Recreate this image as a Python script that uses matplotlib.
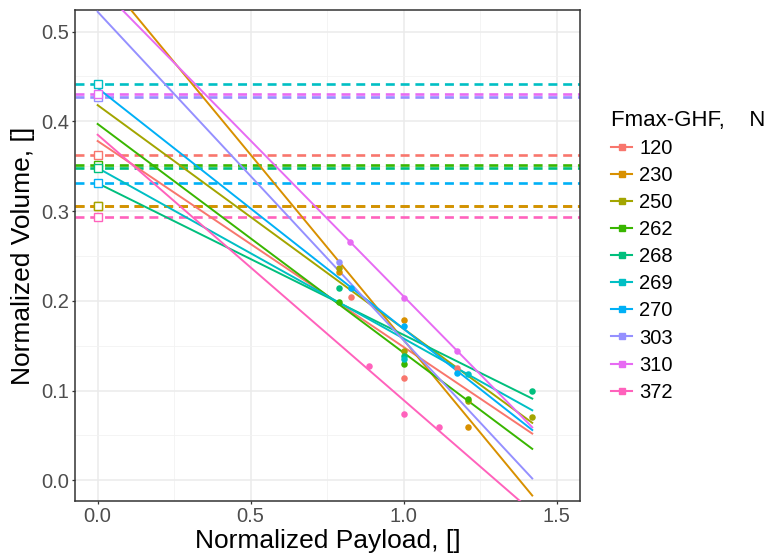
import numpy as np
import matplotlib.pyplot as plt
from matplotlib.lines import Line2D

plt.rcParams['font.family'] = ['Liberation Sans', 'DejaVu Sans']

groups = ['120', '230', '250', '262', '268', '269', '270', '303', '310', '372']
colors = ['#F8766D', '#D89000', '#A3A500', '#39B600', '#00BF7D',
          '#00BFC4', '#00B0F6', '#9590FF', '#E76BF3', '#FF62BC']

# volume at zero payload (dashed reference lines + open squares)
ref_volume = [0.362, 0.306, 0.306, 0.351, 0.348, 0.442, 0.331, 0.427, 0.430, 0.293]

# linear fits, value at payload 0 and at payload 1.42
fit_x = [0.0, 1.42]
fit_start = [0.378, 0.569, 0.418, 0.397, 0.331, 0.348, 0.437, 0.522, 0.552, 0.385]
fit_end = [0.052, -0.017, 0.064, 0.035, 0.091, 0.078, 0.056, 0.002, 0.059, -0.035]

# measured points
point_x = [[0.827, 1.0, 1.173],
           [0.79, 1.0, 1.211],
           [0.79, 1.0, 1.211, 1.42],
           [0.79, 1.0, 1.211],
           [0.79, 1.0, 1.42],
           [1.0, 1.211],
           [0.827, 1.0, 1.173],
           [0.79],
           [0.825, 1.0, 1.174],
           [0.886, 1.0, 1.114]]
point_y = [[0.204, 0.1145, 0.125],
           [0.232, 0.179, 0.059],
           [0.237, 0.144, 0.088, 0.070],
           [0.199, 0.130, 0.091],
           [0.2145, 0.138, 0.099],
           [0.135, 0.118],
           [0.214, 0.1714, 0.120],
           [0.243],
           [0.266, 0.2026, 0.1439],
           [0.1275, 0.0736, 0.0588]]

fig = plt.figure(figsize=(7.71, 5.6), dpi=100)
ax = fig.add_axes([75/771, 59/560, 505/771, 491/560])

# dashed lines drawn last group first so earlier groups sit on top
for i in reversed(range(len(groups))):
    ax.axhline(ref_volume[i], color=colors[i], lw=1.9, dashes=(3.4, 2.2), zorder=2)
for i, g in enumerate(groups):
    ax.plot(fit_x, [fit_start[i], fit_end[i]], color=colors[i], lw=1.4, zorder=3)
for i, g in enumerate(groups):
    ax.scatter(point_x[i], point_y[i], s=22, color=colors[i], lw=0, zorder=4)
    ax.plot([0], [ref_volume[i]], marker='s', ms=6.3, mfc='white', mec=colors[i],
            mew=1.0, ls='none', zorder=5)

ax.set_xlim(-0.074, 1.576)
ax.set_ylim(-0.0231, 0.524)
ax.set_xticks([0, 0.5, 1.0, 1.5])
ax.set_xticks([0.25, 0.75, 1.25], minor=True)
ax.set_yticks(np.arange(0, 0.51, 0.1))
ax.set_yticks(np.arange(0.05, 0.51, 0.1), minor=True)
ax.set_xticklabels(['0.0', '0.5', '1.0', '1.5'])
ax.set_yticklabels(['0.0', '0.1', '0.2', '0.3', '0.4', '0.5'])
ax.grid(which='major', color='#EBEBEB', lw=1.1, zorder=0)
ax.grid(which='minor', color='#F2F2F2', lw=0.6, zorder=0)
ax.set_axisbelow(True)
ax.tick_params(which='major', length=2.5, width=0.9, color='#333333',
               labelsize=14.5, labelcolor='#4D4D4D', pad=2)
ax.tick_params(which='minor', length=0)
for s in ax.spines.values():
    s.set_color('#333333')
    s.set_linewidth(1.1)

ax.set_xlabel('Normalized Payload, []', fontsize=19, labelpad=2)
ax.set_ylabel('Normalized Volume, []', fontsize=19, labelpad=4)

handles = [Line2D([], [], color=c, lw=1.5, marker='s', ms=5) for c in colors]
leg = fig.legend(handles, groups, loc='upper left', bbox_to_anchor=(597/771, 1 - 96/560),
                 frameon=False, fontsize=14.5, title='Fmax-GHF,    N', title_fontsize=16,
                 handlelength=1.05, handletextpad=0.35, labelspacing=0.4,
                 alignment='left', borderpad=0.2)

plt.savefig('out.png', dpi=100)
